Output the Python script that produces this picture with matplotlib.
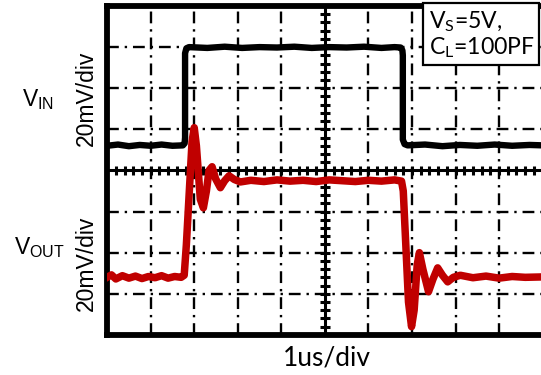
import matplotlib
matplotlib.use("Agg")
import matplotlib.pyplot as plt
import numpy as np

# time in divisions (1us/div), amplitude in divisions (20mV/div)
vin_t = [0.0, 0.25, 0.5, 0.75, 1.0, 1.25, 1.5, 1.74, 1.78, 1.79, 1.79, 1.82, 1.88,
         2.3, 2.7, 3.1, 3.5, 3.9, 4.3, 4.7, 5.1, 5.5, 5.9, 6.3, 6.6, 6.74, 6.78,
         6.79, 6.79, 6.83, 6.9, 7.3, 7.7, 8.1, 8.5, 8.9, 9.3, 9.7, 10.0]
vin_v = [4.60, 4.63, 4.59, 4.62, 4.60, 4.63, 4.60, 4.61, 4.66, 4.80, 6.85, 6.97, 7.00,
         6.98, 7.01, 6.98, 7.00, 6.99, 7.01, 6.98, 7.00, 6.99, 7.01, 6.98, 7.00, 6.99, 6.92,
         6.80, 4.75, 4.64, 4.61, 4.63, 4.59, 4.62, 4.60, 4.63, 4.60, 4.62, 4.61]

vout_t = [0.0, 0.1, 0.2, 0.35, 0.5, 0.65, 0.8, 0.95, 1.1, 1.25, 1.4, 1.55, 1.7, 1.77,
          1.82, 1.95, 2.0, 2.05, 2.14, 2.21, 2.28, 2.34, 2.41, 2.49, 2.60, 2.70, 2.80,
          2.92, 3.06, 3.3, 3.6, 3.9, 4.2, 4.5, 4.8, 5.1, 5.4, 5.7, 6.0, 6.3, 6.6, 6.76,
          6.80, 6.92, 6.99, 7.05, 7.12, 7.17, 7.25, 7.38, 7.48, 7.59, 7.70, 7.82, 7.95,
          8.11, 8.4, 8.7, 9.0, 9.3, 9.6, 10.0]
vout_v = [1.40, 1.46, 1.36, 1.44, 1.38, 1.43, 1.37, 1.42, 1.39, 1.44, 1.38, 1.42, 1.40, 1.45,
          2.20, 4.70, 5.04, 4.60, 3.30, 3.09, 3.50, 4.00, 4.09, 3.80, 3.58, 3.75, 3.87,
          3.78, 3.72, 3.76, 3.73, 3.77, 3.74, 3.76, 3.73, 3.77, 3.75, 3.73, 3.76, 3.74, 3.77, 3.74,
          3.50, 0.80, 0.20, 0.60, 1.70, 2.00, 1.60, 1.05, 1.35, 1.63, 1.45, 1.29, 1.40,
          1.45, 1.39, 1.43, 1.38, 1.42, 1.40, 1.41]

plt.rcParams['font.family'] = ['Liberation Sans', 'DejaVu Sans']

fig = plt.figure(figsize=(5.41, 3.75), dpi=100)
ax = fig.add_axes([0.198, 0.107, 0.805, 0.877])
ax.set_xlim(0, 10)
ax.set_ylim(0, 8)

# dash-dot grid
grid_style = (0, (5, 2.5, 1, 2.5))
for gx in [1, 2, 3, 4, 6, 7, 8, 9]:
    ax.axvline(gx, color='black', lw=1.7, ls=grid_style, zorder=1)
for gy in [1, 2, 3, 5, 6, 7]:
    ax.axhline(gy, color='black', lw=1.7, ls=grid_style, zorder=1)

# center axes with minor ticks
ax.axhline(4, color='black', lw=2.2, zorder=1)
ax.axvline(5, color='black', lw=2.2, zorder=1)
tx = np.arange(0.2, 10, 0.2)
ax.vlines(tx, 4 - 0.12, 4 + 0.12, color='black', lw=2.2, zorder=1)
ty = np.arange(0.2, 8, 0.2)
ax.hlines(ty, 5 - 0.115, 5 + 0.115, color='black', lw=2.2, zorder=1)

ax.plot(vin_t, vin_v, color='black', lw=4.6, solid_joinstyle='round', zorder=3)
ax.plot(vout_t, vout_v, color='#C00000', lw=5.4, solid_joinstyle='round', zorder=4)

ax.set_xticks([])
ax.set_yticks([])
for s in ['left', 'top', 'bottom']:
    ax.spines[s].set_linewidth(4.2)
ax.spines['right'].set_visible(False)

# condition box
box = plt.Rectangle((7.26, 6.57), 2.65, 1.5, facecolor='white', edgecolor='black',
                    lw=1.6, zorder=5, clip_on=False)
ax.add_patch(box)
ax.text(7.40, 7.62, r'$\mathregular{V_S}$=5V,', fontsize=16.6, family='Lato',
        va='center', ha='left', zorder=6)
ax.text(7.40, 6.98, r'$\mathregular{C_L}$=100PF', fontsize=16.6, family='Lato',
        va='center', ha='left', zorder=6)

fig.text(0.604, 0.045, '1us/div', fontsize=19, family='Lato', ha='center', va='center')
fig.text(0.160, 0.739, '20mV/div', fontsize=16.5, rotation=90, ha='center', va='center')
fig.text(0.160, 0.299, '20mV/div', fontsize=16.5, rotation=90, ha='center', va='center')
fig.text(0.070, 0.735, r'$\mathregular{V_{IN}}$', fontsize=16.5, ha='center', va='center')
fig.text(0.072, 0.340, r'$\mathregular{V_{OUT}}$', fontsize=16.5, ha='center', va='center')

fig.savefig('out.png', dpi=100)
